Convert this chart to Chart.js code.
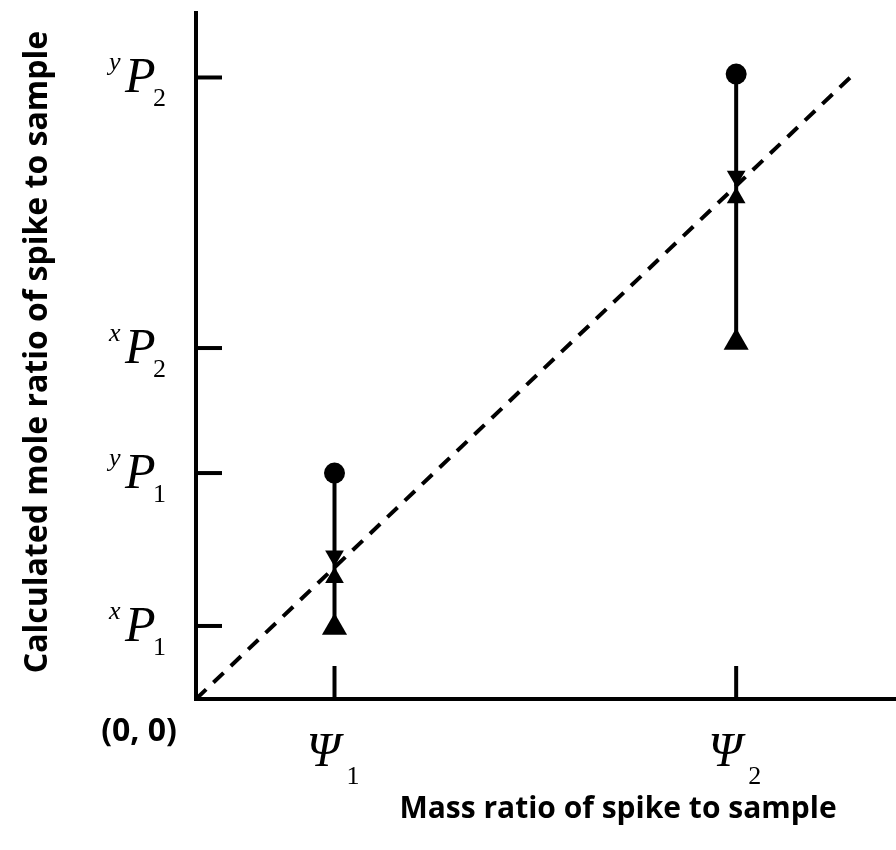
<!DOCTYPE html>
<html lang="en">
<head>
<meta charset="UTF-8" />
<title>Mass ratio of spike to sample</title>
<script src="https://cdn.jsdelivr.net/npm/chart.js"></script>
<style>
  html, body { margin: 0; padding: 0; background: #fff; }
  #wrap { width: 896px; height: 850px; }
</style>
</head>
<body>
<div id="wrap"><canvas id="grafico" width="896" height="850"></canvas></div>
<script>
  // values: x in units of Psi1, y on the same scale as the 1:1 line
  var psiValues = [1, 3.9];
  var psiSub = ["1", "2"];
  var pTicks = [0.555, 1.717, 2.667, 4.723];
  var pSup = ["x", "y", "x", "y"];
  var pSub = ["1", "1", "2", "2"];
  var circleY = [1.717, 4.749];
  var downTriY = [1.087, 3.974];
  var upTriY = [0.922, 3.809];
  var baseTriY = [0.543, 2.709];
  var diagonal = [0, 4.765];
  var xMax = 5.054;
  var yMax = 5.213;

  function pontos(ys) {
    return psiValues.map(function (x, i) { return { x: x, y: ys[i] }; });
  }

  function fitFont(ctx, text, family, start, width) {
    var size = start;
    ctx.font = "bold " + size + "px " + family;
    while (size > 8 && ctx.measureText(text).width > width) {
      size -= 0.5;
      ctx.font = "bold " + size + "px " + family;
    }
    return size;
  }

  var decoracao = {
    id: "decoracao",
    afterDraw: function (chart) {
      var ctx = chart.ctx;
      var sx = chart.scales.x;
      var sy = chart.scales.y;
      var left = chart.chartArea.left;
      var bottom = chart.chartArea.bottom;
      ctx.save();
      ctx.strokeStyle = "#000";
      ctx.fillStyle = "#000";
      ctx.lineWidth = 4;

      // inward tick marks
      pTicks.forEach(function (v) {
        var py = sy.getPixelForValue(v);
        ctx.beginPath();
        ctx.moveTo(left, py);
        ctx.lineTo(left + 26, py);
        ctx.stroke();
      });
      psiValues.forEach(function (v) {
        var px = sx.getPixelForValue(v);
        ctx.beginPath();
        ctx.moveTo(px, bottom);
        ctx.lineTo(px, bottom - 33);
        ctx.stroke();
      });

      // y tick labels  ^xP_1 etc
      ctx.textAlign = "left";
      ctx.textBaseline = "alphabetic";
      pTicks.forEach(function (v, i) {
        var py = sy.getPixelForValue(v);
        ctx.font = "italic 26px 'Liberation Serif'";
        ctx.fillText(pSup[i], 109, py - 7);
        ctx.font = "italic 50px 'Liberation Serif'";
        ctx.fillText("P", 125, py + 15);
        ctx.font = "26px 'Liberation Serif'";
        ctx.fillText(pSub[i], 153, py + 29);
      });

      // x tick labels  Psi_1, Psi_2
      psiValues.forEach(function (v, i) {
        var px = sx.getPixelForValue(v);
        ctx.font = "italic 48px 'Liberation Serif'";
        ctx.fillText("\u03A8", px - 28, 766);
        ctx.font = "26px 'Liberation Serif'";
        ctx.fillText(psiSub[i], px + 12, 784);
      });

      // axis titles
      var fam = "'Open Sans'";
      var t1 = "Mass ratio of spike to sample";
      fitFont(ctx, t1, fam, 32, 439);
      ctx.textAlign = "center";
      ctx.fillText(t1, 618, 818);

      var t2 = "(0, 0)";
      fitFont(ctx, t2, fam, 32, 82);
      ctx.fillText(t2, 139, 741);

      var t3 = "Calculated mole ratio of spike to sample";
      fitFont(ctx, t3, fam, 32, 675);
      ctx.translate(47, 352);
      ctx.rotate(-Math.PI / 2);
      ctx.fillText(t3, 0, 0);
      ctx.restore();
    }
  };

  var ctx = document.getElementById("grafico");
  new Chart(ctx, {
    type: "scatter",
    data: {
      datasets: [
        {
          data: pontos(circleY),
          pointStyle: "circle",
          pointRadius: 10.5,
          pointBorderWidth: 0,
          backgroundColor: "#000",
          borderColor: "#000",
        },
        {
          data: pontos(downTriY),
          pointStyle: "triangle",
          pointRotation: 180,
          pointRadius: 10.8,
          pointBorderWidth: 0,
          backgroundColor: "#000",
          borderColor: "#000",
        },
        {
          data: pontos(upTriY),
          pointStyle: "triangle",
          pointRadius: 10.8,
          pointBorderWidth: 0,
          backgroundColor: "#000",
          borderColor: "#000",
        },
        {
          data: pontos(baseTriY),
          pointStyle: "triangle",
          pointRadius: 14.5,
          pointBorderWidth: 0,
          backgroundColor: "#000",
          borderColor: "#000",
        },
        {
          data: [{ x: psiValues[0], y: circleY[0] }, { x: psiValues[0], y: baseTriY[0] }],
          showLine: true,
          borderColor: "#000",
          borderWidth: 4,
          pointRadius: 0,
        },
        {
          data: [{ x: psiValues[1], y: circleY[1] }, { x: psiValues[1], y: baseTriY[1] }],
          showLine: true,
          borderColor: "#000",
          borderWidth: 4,
          pointRadius: 0,
        },
        {
          data: diagonal.map(function (v) { return { x: v, y: v }; }),
          showLine: true,
          borderColor: "#000",
          borderWidth: 4,
          borderDash: [14, 10],
          pointRadius: 0,
        },
      ],
    },
    options: {
      responsive: false,
      animation: false,
      devicePixelRatio: 1,
      layout: { autoPadding: false, padding: { top: 13, right: 0, left: 0, bottom: 0 } },
      plugins: {
        legend: { display: false },
        tooltip: { enabled: false },
      },
      scales: {
        x: {
          type: "linear",
          min: 0,
          max: xMax,
          ticks: { display: false },
          grid: { display: false },
          border: { display: true, color: "#000", width: 4 },
          afterFit: function (scale) { scale.height = 151; },
        },
        y: {
          type: "linear",
          min: 0,
          max: yMax,
          ticks: { display: false },
          grid: { display: false },
          border: { display: true, color: "#000", width: 4 },
          afterFit: function (scale) { scale.width = 196; },
        },
      },
    },
    plugins: [decoracao],
  });
</script>
</body>
</html>
